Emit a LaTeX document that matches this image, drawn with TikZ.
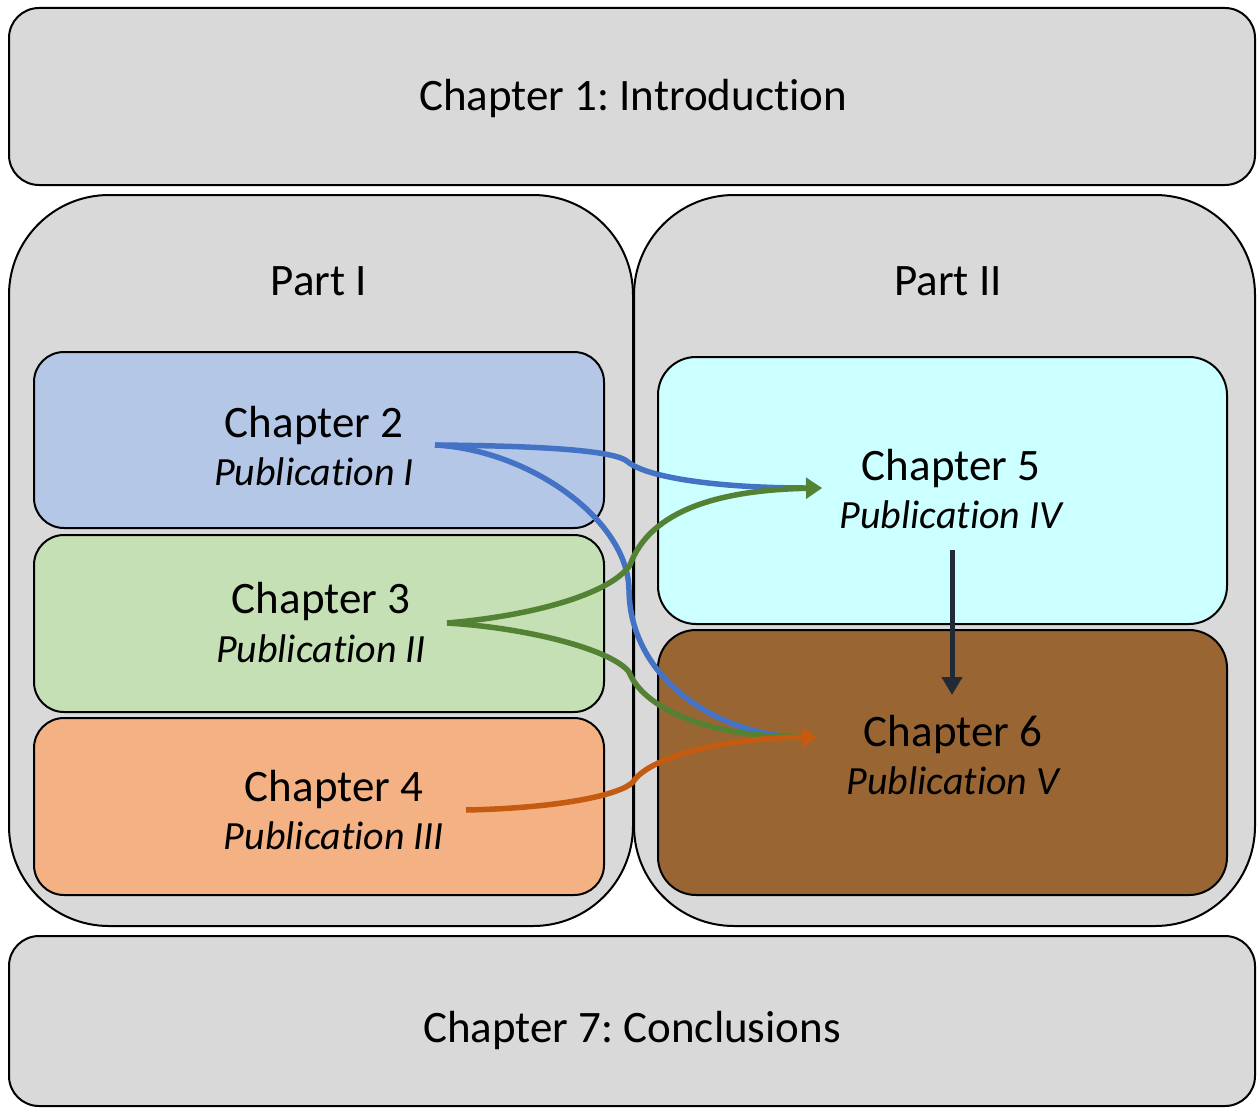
\documentclass[tikz,border=0pt]{standalone}
\usepackage{fontspec}
\setmainfont{Carlito}[Ligatures=NoCommon, RawFeature={-liga;-clig;-calt;-dlig}]
\usetikzlibrary{arrows.meta}
\frenchspacing
\definecolor{grayfill}{HTML}{D9D9D9}
\definecolor{bluefill}{HTML}{B4C7E7}
\definecolor{greenfill}{HTML}{C5E0B4}
\definecolor{orangefill}{HTML}{F4B183}
\definecolor{cyanfill}{HTML}{CCFFFF}
\definecolor{brownfill}{HTML}{996633}
\definecolor{bluearr}{HTML}{4472C4}
\definecolor{greenarr}{HTML}{548235}
\definecolor{orangearr}{HTML}{C55A11}
\definecolor{darkarr}{HTML}{222A35}
\tikzset{
  boxline/.style={draw=black, line width=2pt},
  bigtxt/.style={anchor=base, inner sep=0pt, font=\fontsize{45}{54}\selectfont},
  pubtxt/.style={anchor=base, inner sep=0pt, font=\fontsize{40}{48}\selectfont\itshape},
  flow/.style={line width=5.5pt, -{Triangle[length=16pt, width=20pt]}},
}
\begin{document}
\begin{tikzpicture}[x=1pt, y=-1pt]
\useasboundingbox (0,0) rectangle (1257,1108);
% outer boxes
\draw[boxline, fill=grayfill, rounded corners=30pt] (9,8) rectangle (1255,185);
\draw[boxline, fill=grayfill, rounded corners=100pt] (9,195) rectangle (633,926);
\draw[boxline, fill=grayfill, rounded corners=100pt] (634,195) rectangle (1255,926);
\draw[boxline, fill=grayfill, rounded corners=30pt] (9,936) rectangle (1255,1106);
% chapter boxes
\draw[boxline, fill=bluefill, rounded corners=30pt] (34,352) rectangle (604,528);
\draw[boxline, fill=greenfill, rounded corners=30pt] (34,535) rectangle (604,712);
\draw[boxline, fill=orangefill, rounded corners=30pt] (34,718) rectangle (604,895);
\draw[boxline, fill=cyanfill, rounded corners=38pt] (658,357) rectangle (1227,624);
\draw[boxline, fill=brownfill, rounded corners=38pt] (658,630) rectangle (1227,895);
% texts
\node[bigtxt] (t1) at (633,110) {Chapter 1: Introduction};
\node[bigtxt] (p1) at (319,295) {Part I};
\node[bigtxt] (p2) at (948,295) {Part II};
\node[bigtxt] (t2) at (314,437) {Chapter 2};
\node[pubtxt] (u2) at (314,485) {Publication I};
\node[bigtxt] (t3) at (321,613) {Chapter 3};
\node[pubtxt] (u3) at (321,662) {Publication II};
\node[bigtxt] (t4) at (334,801) {Chapter 4};
\node[pubtxt] (u4) at (334,849) {Publication III};
\node[bigtxt] (t5) at (951,480) {Chapter 5};
\node[pubtxt] (u5) at (951,528) {Publication IV};
\node[bigtxt] (t6) at (953,746) {Chapter 6};
\node[pubtxt] (u6) at (953,794) {Publication V};
\node[bigtxt] (t7) at (632,1042) {Chapter 7: Conclusions};
% connector end points
\coordinate (s2) at (435,445);
\coordinate (s3) at (447,623);
\coordinate (s4) at (466,810);
\coordinate (e5) at (822,488);
\coordinate (e6) at (818,737);
\coordinate (k21) at (628,462);
\coordinate (k22) at (629,590);
\coordinate (k31) at (630,565);
\coordinate (k32) at (629,672);
\coordinate (k4) at (633,782);
\coordinate (s5) at (952,550);
\coordinate (e56) at (952,695);
% connectors
\draw[flow, bluearr] (s2) .. controls (530,450) and (628,520) .. (k22) .. controls (630,680) and (720,737) .. (e6);
\draw[flow, greenarr] (s3) .. controls (530,628) and (612,650) .. (k32) .. controls (642,705) and (700,737) .. (e6);
\draw[flow, orangearr] (s4) .. controls (560,808) and (620,795) .. (k4) .. controls (648,758) and (720,738) .. (e6);
\draw[flow, bluearr] (s2) .. controls (560,446) and (618,452) .. (k21) .. controls (648,478) and (720,488) .. (e5);
\draw[flow, greenarr] (s3) .. controls (540,615) and (612,592) .. (k31) .. controls (650,510) and (720,490) .. (e5);
\draw[line width=5pt, darkarr, -{Triangle[length=18pt, width=20pt]}] (s5) -- (e56);
\end{tikzpicture}
\end{document}
